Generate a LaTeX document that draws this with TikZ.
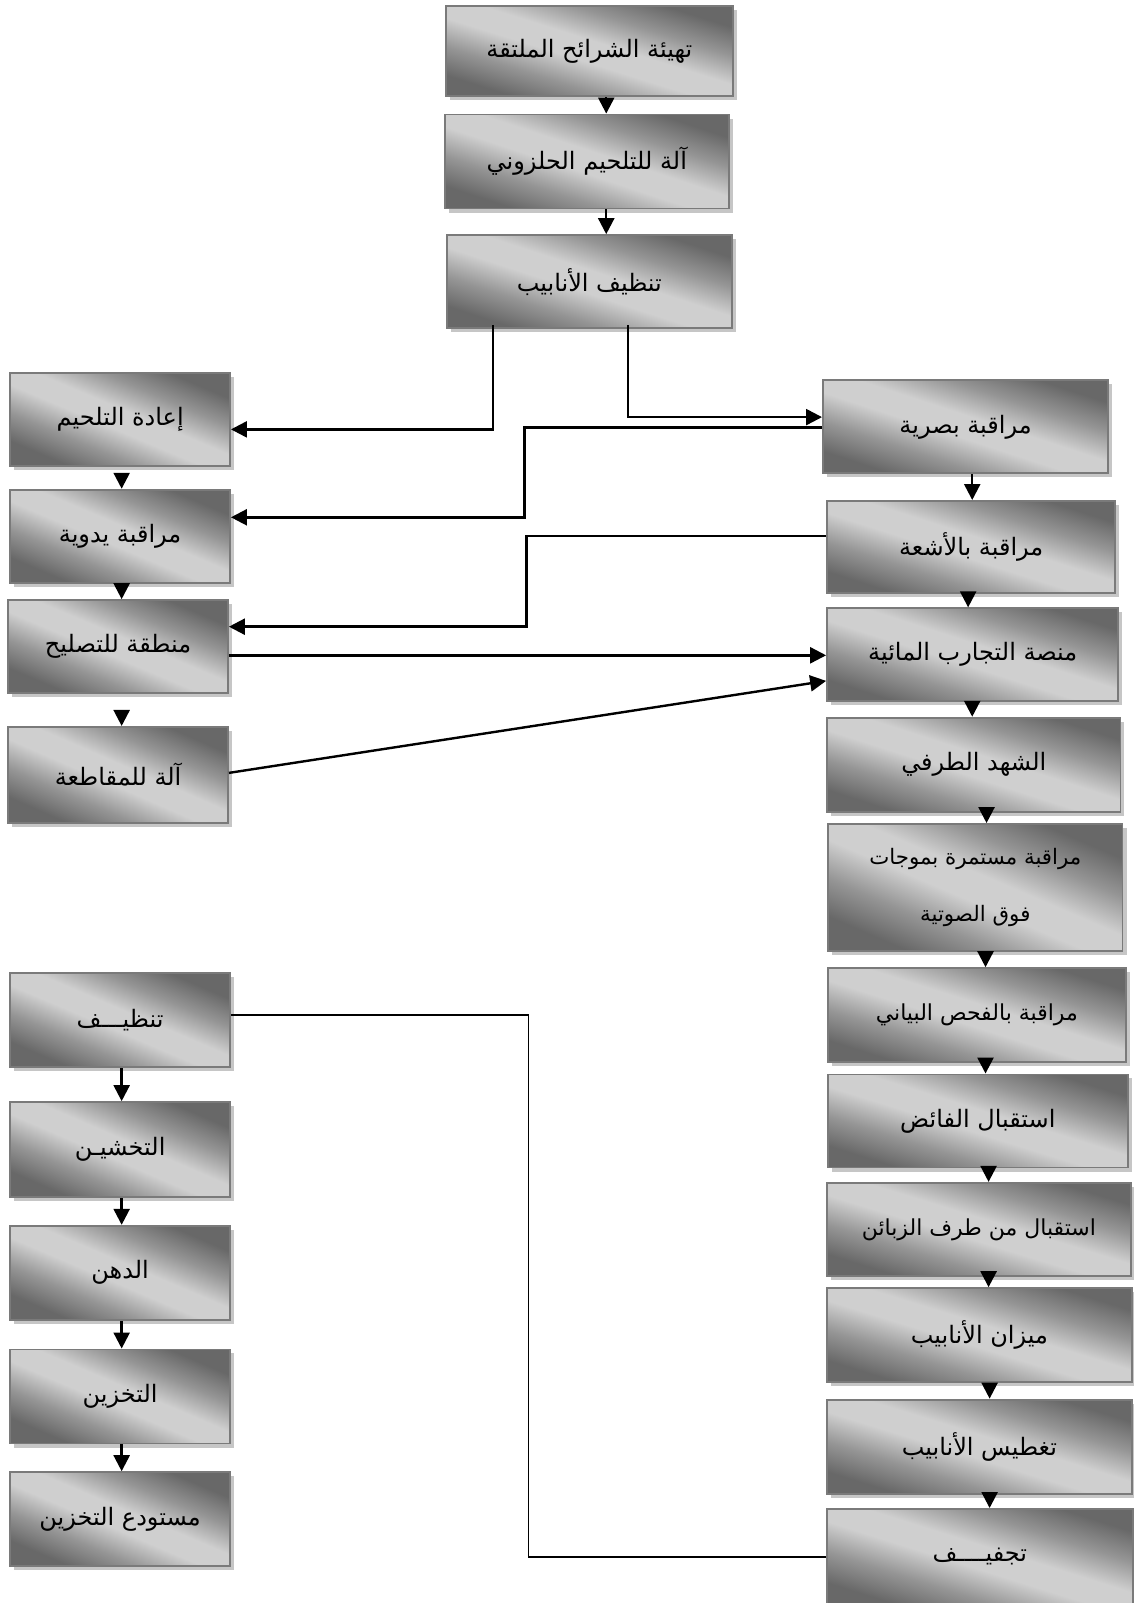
\documentclass[tikz,border=0pt]{standalone}
\usepackage{fontspec}
\newfontfamily\arabicfont[Script=Arabic]{DejaVu Sans}
\TeXXeTstate=1
\usetikzlibrary{shadows,arrows.meta,calc}
\definecolor{boxdark}{HTML}{686868}
\definecolor{boxmid}{HTML}{959595}
\definecolor{boxlight}{HTML}{CFCFCF}
\definecolor{boxedge}{HTML}{7A7A7A}
\definecolor{shadowgray}{HTML}{C6C6C6}
\pgfdeclareverticalshading{boxshade}{100bp}{color(0bp)=(boxdark); color(26bp)=(boxdark);
  color(36bp)=(boxmid); color(46bp)=(boxlight); color(54bp)=(boxlight);
  color(64bp)=(boxmid); color(74bp)=(boxdark); color(100bp)=(boxdark)}
\newcommand\rl[1]{\beginR #1\endR}
\newcommand\procnode[7][]{%
  \pgfmathsetmacro\shadeang{-atan((#6-#4)/(#5-#3))}%
  \node[procbox,#1,shading angle=\shadeang,
    minimum width={(#5-#3)*0.7669pt},minimum height={(#6-#4)*0.7669pt}]
    (#2) at ({(#3+#5)/2},{(#4+#6)/2}) {#7};}
\tikzset{
  procbox/.style={rectangle, draw=boxedge, line width=1.4pt, inner sep=0pt,
    shade, shading=boxshade,
    drop shadow={shadow xshift=3pt, shadow yshift=-3pt, fill=shadowgray, opacity=1},
    align=center, text=black, font=\arabicfont\fontsize{18}{36}\selectfont},
  smalltxt/.style={font=\arabicfont\fontsize{16.5}{32}\selectfont},
  arr/.style={-{Triangle[length=12pt,width=12pt]}, line width=1.8pt, black},
  thinline/.style={line width=1.4pt, black}
}
\begin{document}
\begin{tikzpicture}[x=0.7669pt, y=-0.7669pt]
\useasboundingbox (0,0) rectangle (1109,1568);
% top column
\procnode{b1}{436}{6}{717}{94}{\rl{تهيئة الشرائح الملتقة}}
\procnode{b2}{435}{112}{713}{204}{\rl{آلة للتلحيم الحلزوني}}
\procnode{b3}{437}{230}{716}{321}{\rl{تنظيف الأنابيب}}
% left upper column
\procnode{redo}{10}{365}{225}{456}{\rl{إعادة التلحيم}}
\procnode{manual}{10}{479}{225}{570}{\rl{مراقبة يدوية}}
\procnode{repair}{8}{587}{223}{678}{\rl{منطقة للتصليح}}
\procnode{cut}{8}{711}{223}{805}{\rl{آلة للمقاطعة}}
% right column
\procnode{visual}{805}{372}{1084}{463}{\rl{مراقبة بصرية}}
\procnode{xray}{809}{490}{1091}{580}{\rl{مراقبة بالأشعة}}
\procnode{hydro}{809}{595}{1094}{686}{\rl{منصة التجارب المائية}}
\procnode{edge}{809}{702}{1096}{794}{\rl{الشهد الطرفي}}
\procnode[font=\arabicfont\fontsize{16}{43}\selectfont]{ultra}{810}{806}{1098}{930}{\rl{مراقبة مستمرة بموجات}\\\rl{فوق الصوتية}}
\procnode[smalltxt]{radio}{810}{947}{1101}{1039}{\rl{مراقبة بالفحص البياني}}
\procnode{surplus}{810}{1051}{1103}{1142}{\rl{استقبال الفائض}}
\procnode[smalltxt]{customer}{809}{1157}{1106}{1248}{\rl{استقبال من طرف الزبائن}}
\procnode{weigh}{809}{1260}{1107}{1352}{\rl{ميزان الأنابيب}}
\procnode{coat}{809}{1369}{1107}{1461}{\rl{تغطيس الأنابيب}}
\procnode{dry}{809}{1476}{1108}{1570}{\rl{تجفيــــف}}
% left lower column
\procnode{clean}{10}{952}{225}{1044}{\rl{تنظيـــف}}
\procnode{rough}{10}{1078}{225}{1171}{\rl{التخشيـن}}
\procnode{paint}{10}{1199}{225}{1291}{\rl{الدهن}}
\procnode{store}{10}{1320}{225}{1412}{\rl{التخزين}}
\procnode{depot}{10}{1440}{225}{1532}{\rl{مستودع التخزين}}
% vertical arrows, top column
\draw[arr] (b1.south -| 593,0) -- (b2.north -| 593,0);
\draw[arr] (b2.south -| 593,0) -- (b3.north -| 593,0);
% vertical arrows, left upper column
\draw[arr] ($(redo.south -| 119,0)+(0,8)$) -- (manual.north -| 119,0);
\draw[arr] (manual.south -| 119,0) -- (repair.north -| 119,0);
\draw[arr] ($(repair.south -| 119,0)+(0,18)$) -- (cut.north -| 119,0);
% vertical arrows, right column
\draw[arr] (visual.south -| 951,0) -- (xray.north -| 951,0);
\draw[arr] (xray.south -| 947,0) -- (hydro.north -| 947,0);
\draw[arr] (hydro.south -| 951,0) -- (edge.north -| 951,0);
\draw[arr] (edge.south -| 965,0) -- (ultra.north -| 965,0);
\draw[arr] (ultra.south -| 964,0) -- (radio.north -| 964,0);
\draw[arr] (radio.south -| 964,0) -- (surplus.north -| 964,0);
\draw[arr] (surplus.south -| 967,0) -- (customer.north -| 967,0);
\draw[arr] (customer.south -| 967,0) -- (weigh.north -| 967,0);
\draw[arr] (weigh.south -| 968,0) -- (coat.north -| 968,0);
\draw[arr] (coat.south -| 968,0) -- (dry.north -| 968,0);
% vertical arrows, left lower column
\draw[arr] (clean.south -| 119,0) -- (rough.north -| 119,0);
\draw[arr] (rough.south -| 119,0) -- (paint.north -| 119,0);
\draw[arr] (paint.south -| 119,0) -- (store.north -| 119,0);
\draw[arr] (store.south -| 119,0) -- (depot.north -| 119,0);
% cross connectors
\draw[arr] ($(b3.south -| 482,0)+(0,-4)$) |- (redo.east |- 0,420);
\draw[arr] ($(b3.south -| 614,0)+(0,-4)$) |- (visual.west |- 0,408);
\draw[arr] (visual.west |- 0,418) -| (513,506) -- (manual.east |- 0,506);
\draw[arr] (xray.west |- 0,524) -| (515,613) -- (repair.east |- 0,613);
\draw[arr] (repair.east |- 0,641) -- (hydro.west |- 0,641);
\draw[arr] (cut.east |- 0,756) -- (hydro.west |- 0,666);
\draw[thinline] (dry.west |- 0,1523) -| (517,993) -- (clean.east |- 0,993);
\end{tikzpicture}
\end{document}
